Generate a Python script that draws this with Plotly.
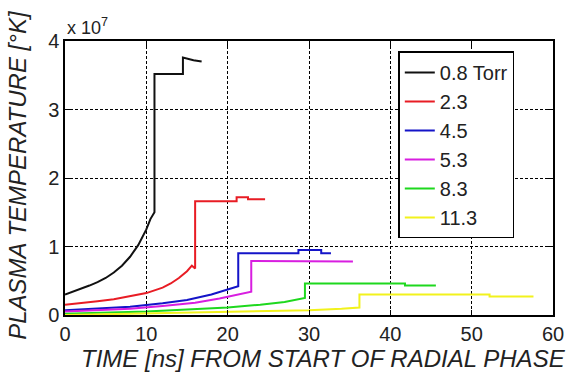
import plotly.graph_objects as go

# values in units of 1e7 K, time in ns
labels = ["0.8 Torr", "2.3", "4.5", "5.3", "8.3", "11.3"]
colors = ["#111111", "#e81c24", "#1414c8", "#d81ee0", "#1ed81e", "#f2f21c"]

t_08 = [0, 1, 2, 3, 4, 5, 6, 7, 8, 9, 10, 10.5, 11.0, 11.0, 14.5, 14.5, 15.8, 16.8]
y_08 = [0.30, 0.34, 0.38, 0.43, 0.48, 0.54, 0.62, 0.72, 0.85, 1.02, 1.25, 1.40, 1.50, 3.52, 3.52, 3.76, 3.72, 3.70]

t_23 = [0, 2, 4, 6, 8, 10, 12, 13, 14, 15, 15.6, 16.0, 16.0, 21.1, 21.1, 22.5, 22.5, 24.6]
y_23 = [0.15, 0.17, 0.20, 0.23, 0.27, 0.32, 0.40, 0.46, 0.54, 0.64, 0.72, 0.68, 1.66, 1.66, 1.72, 1.72, 1.69, 1.69]

t_45 = [0, 4, 8, 12, 15, 18, 20, 21.3, 21.3, 28.7, 28.7, 31.5, 31.5, 32.7]
y_45 = [0.07, 0.09, 0.12, 0.17, 0.22, 0.30, 0.37, 0.42, 0.90, 0.90, 0.95, 0.95, 0.90, 0.90]

t_53 = [0, 4, 8, 12, 16, 19, 21, 22.9, 22.9, 33.5, 33.5, 35.4]
y_53 = [0.05, 0.07, 0.09, 0.13, 0.18, 0.24, 0.29, 0.34, 0.79, 0.79, 0.78, 0.78]

t_83 = [0, 5, 10, 15, 20, 24, 27, 29.5, 29.5, 41.8, 41.8, 45.6]
y_83 = [0.02, 0.03, 0.05, 0.08, 0.11, 0.15, 0.19, 0.25, 0.46, 0.46, 0.43, 0.43]

t_113 = [0, 10, 20, 30, 34, 36.2, 36.2, 52.2, 52.2, 57.6]
y_113 = [0.00, 0.02, 0.04, 0.07, 0.09, 0.11, 0.30, 0.30, 0.27, 0.27]

x_ticks = [0, 10, 20, 30, 40, 50, 60]
y_ticks = [0, 1, 2, 3, 4]

series = [(t_08, y_08), (t_23, y_23), (t_45, y_45), (t_53, y_53), (t_83, y_83), (t_113, y_113)]

FONT = "Liberation Sans, Arial, sans-serif"
TXT = "#222"
fig = go.Figure()
for (t, y), name, c in zip(series, labels, colors):
    fig.add_trace(go.Scatter(x=t, y=y, mode="lines", name=name,
                             line=dict(color=c, width=2), cliponaxis=False))

axis_common = dict(showline=True, linecolor="black", linewidth=1.5, mirror="ticks",
                   ticks="inside", ticklen=5, tickcolor="black", tickwidth=1,
                   showgrid=True, gridcolor="black", gridwidth=1, griddash="3px,2px",
                   zeroline=False, tickfont=dict(family=FONT, size=20, color=TXT))

fig.update_xaxes(range=[0, 60], tickvals=x_ticks, **axis_common)
fig.update_yaxes(range=[0, 4], tickvals=y_ticks, **axis_common)

fig.update_layout(
    width=576, height=372,
    margin=dict(l=65, r=19, t=41, b=57),
    plot_bgcolor="white", paper_bgcolor="white",
    font=dict(family=FONT, color=TXT),
    legend=dict(x=0.683, y=0.962, xanchor="left", yanchor="top",
                bgcolor="white", bordercolor="black", borderwidth=1.5,
                font=dict(family=FONT, size=20, color=TXT),
                entrywidth=108, entrywidthmode="pixels"),
    annotations=[
        dict(text="x 10<sup>7</sup>", xref="paper", yref="paper", x=0.0, y=1.0,
             xanchor="left", yanchor="bottom", showarrow=False, yshift=1,
             font=dict(family=FONT, size=18, color=TXT)),
        dict(text="<i>TIME [ns] FROM START OF RADIAL PHASE</i>", xref="paper", yref="paper",
             x=0.53, y=0, xanchor="center", yanchor="top", yshift=-28, showarrow=False,
             font=dict(family=FONT, size=24, color=TXT)),
        dict(text="<i>PLASMA TEMPERATURE [°K]</i>", xref="paper", yref="paper",
             x=0, y=0.51, xanchor="right", yanchor="middle", xshift=-32, textangle=-90,
             showarrow=False, font=dict(family=FONT, size=24, color=TXT)),
    ],
)

fig.write_html("out.html")
